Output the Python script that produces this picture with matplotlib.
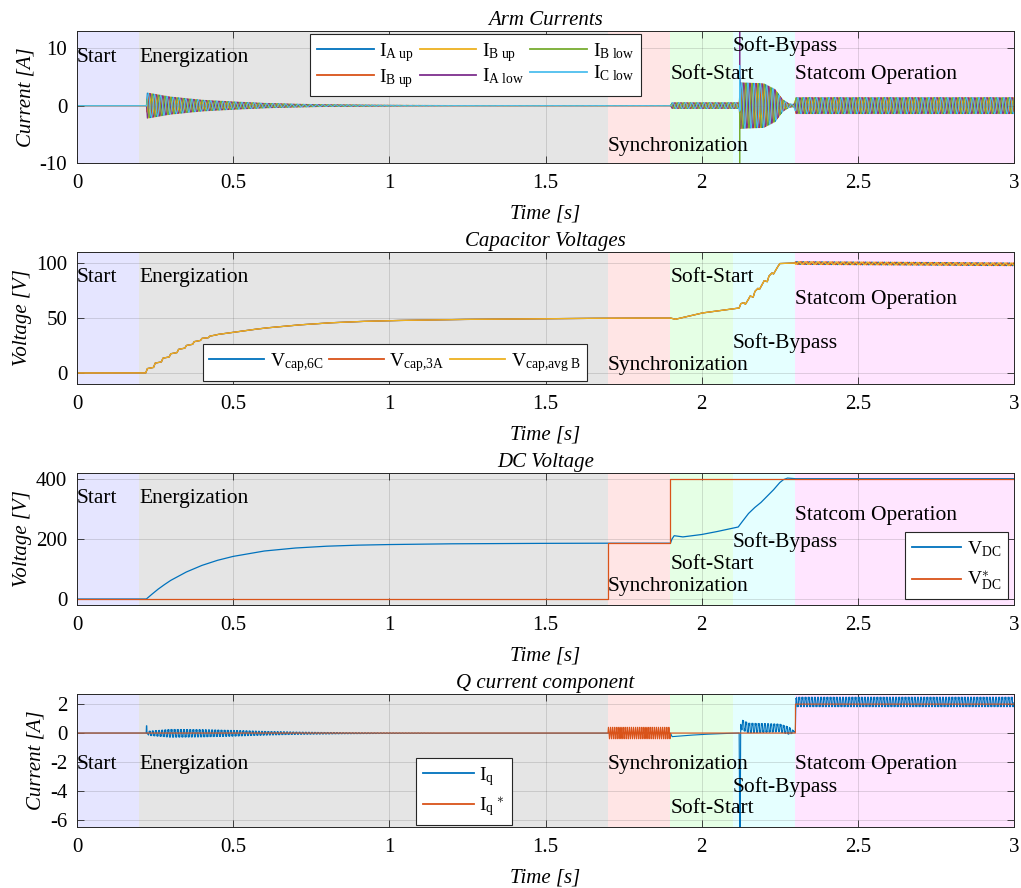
import numpy as np
import matplotlib
matplotlib.use("Agg")
import matplotlib.pyplot as plt

plt.rcParams['font.family'] = ['Liberation Serif', 'DejaVu Serif']
plt.rcParams['mathtext.fontset'] = 'custom'
plt.rcParams['mathtext.rm'] = 'Liberation Serif'
plt.rcParams['mathtext.it'] = 'Liberation Serif:italic'
plt.rcParams['axes.unicode_minus'] = False

# ---------------------------------------------------------------- phases
phase_names = ["Start", "Energization", "Synchronization", "Soft-Start",
               "Soft-Bypass", "Statcom Operation"]
phase_edges = [0.0, 0.2, 1.7, 1.9, 2.1, 2.3, 3.0]
phase_colors = ["#0000ff", "#000000", "#ff0000", "#00ff00", "#00ffff", "#ff00ff"]

# matlab default line colours
C_BLUE, C_ORANGE, C_YELLOW = "#0072BD", "#D95319", "#EDB120"
C_PURPLE, C_GREEN, C_CYAN = "#7E2F8E", "#77AC30", "#4DBEEE"

F_GRID = 50.0          # grid frequency [Hz]
t = np.arange(0.0, 3.0, 1e-4)

# ---------------------------------------------------------------- arm currents
arm_labels = [r"I$_{\rm A\ up}$", r"I$_{\rm B\ up}$", r"I$_{\rm B\ up}$",
              r"I$_{\rm A\ low}$", r"I$_{\rm B\ low}$", r"I$_{\rm C\ low}$"]
arm_colors = [C_BLUE, C_ORANGE, C_YELLOW, C_PURPLE, C_GREEN, C_CYAN]
arm_phase_deg = [0, 240, 120, 180, 60, 300]
# envelope of the arm current oscillation (time [s], amplitude [A])
arm_env_t = [0.0, 0.222, 0.225, 0.3, 0.4, 0.5, 0.6, 0.7, 0.8, 1.0, 1.2,
             1.9, 1.905, 2.12, 2.124, 2.2, 2.235, 2.26, 2.28, 2.295, 2.302, 3.0]
arm_env_a = [0.0, 0.0, 2.2, 1.5, 0.95, 0.65, 0.4, 0.25, 0.15, 0.06, 0.02,
             0.02, 0.5, 0.5, 4.0, 3.8, 2.8, 1.0, 0.3, 0.2, 1.4, 1.4]
arm_spike_t = 2.122
arm_spike_v = [5.0, -3.0, 2.5, 13.5, -11.0, 7.0]

# ---------------------------------------------------------------- capacitor voltages
cap_labels = [r"V$_{\rm cap{,}6C}$", r"V$_{\rm cap{,}3A}$", r"V$_{\rm cap{,}avg\ B}$"]
cap_colors = [C_BLUE, C_ORANGE, C_YELLOW]
cap_points = [(0.0, 0.0), (0.22, 0.0), (0.225, 4.0), (0.245, 5.0), (0.25, 9.0),
              (0.27, 10.0), (0.275, 13.5), (0.295, 14.5), (0.30, 17.5),
              (0.32, 18.5), (0.325, 21.5), (0.345, 22.5), (0.35, 25.0),
              (0.37, 26.0), (0.375, 28.5), (0.395, 29.5), (0.40, 31.5),
              (0.42, 32.0), (0.425, 33.5), (0.445, 34.5), (0.45, 35.0),
              (0.5, 37.0), (0.55, 39.0), (0.6, 40.8), (0.7, 43.5), (0.8, 45.5),
              (0.9, 46.8), (1.0, 47.6), (1.2, 48.6), (1.5, 49.4), (1.7, 49.8),
              (1.9, 50.0), (1.915, 48.8), (2.0, 54.5), (2.12, 59.0),
              (2.125, 63.0), (2.135, 64.0), (2.14, 62.5), (2.15, 67.0),
              (2.155, 70.0), (2.165, 69.0), (2.17, 74.0), (2.18, 77.0),
              (2.185, 76.0), (2.195, 81.0), (2.2, 84.0), (2.21, 83.0),
              (2.215, 88.0), (2.225, 91.0), (2.23, 90.0), (2.24, 95.0),
              (2.25, 99.5), (2.3, 100.0), (3.0, 98.8)]
cap_ripple_start = 2.3
cap_ripple_amp = 1.2
cap_ripple_phase_deg = [0, 120, 240]

# ---------------------------------------------------------------- dc voltage
dc_labels = [r"V$_{\rm DC}$", r"V$^{\ast}_{\rm DC}$"]
vdc_t = [0.0, 0.222, 0.24, 0.26, 0.28, 0.3, 0.35, 0.4, 0.45, 0.5, 0.6, 0.7,
         0.8, 0.9, 1.0, 1.2, 1.5, 1.7, 1.9, 1.905, 1.912, 1.94, 2.0, 2.05,
         2.117, 2.13, 2.15, 2.17, 2.19, 2.21, 2.23, 2.25, 2.262, 2.275, 2.3, 3.0]
vdc_v = [0.0, 0.0, 16.0, 33.0, 48.0, 62.0, 90.0, 112.0, 129.0, 142.0, 160.0,
         170.0, 176.0, 179.5, 181.5, 184.0, 185.5, 186.0, 186.0, 200.0, 211.0,
         207.0, 215.0, 225.0, 240.0, 258.0, 285.0, 305.0, 322.0, 343.0, 364.0,
         388.0, 398.0, 403.0, 401.0, 401.0]
vdc_ref_t = [0.0, 1.7, 1.7, 1.9, 1.9, 3.0]
vdc_ref_v = [0.0, 0.0, 186.0, 186.0, 400.0, 400.0]

# ---------------------------------------------------------------- q current
iq_labels = [r"I$_{\rm q}$", r"I$_{\rm q}$$^{\,\ast}$"]
iq_points = [(0.0, 0.0), (0.2215, 0.0), (0.222, 0.5), (0.2235, 0.5),
             (0.224, -0.02), (1.0, -0.01), (1.9, 0.0), (1.905, -0.25),
             (1.95, -0.17), (2.0, -0.1), (2.05, -0.05), (2.12, 0.0),
             (2.1215, -6.8), (2.1235, -6.8), (2.125, 0.6), (2.15, 0.35),
             (2.25, 0.35), (2.29, 0.1), (2.3, 0.1), (2.302, 2.15), (3.0, 2.15)]
iq_env_t = [0.0, 0.224, 0.23, 0.3, 0.4, 0.5, 0.6, 0.7, 0.85, 1.0, 1.2,
            2.125, 2.127, 2.28, 2.3, 2.302, 3.0]
iq_env_a = [0.0, 0.0, 0.15, 0.27, 0.25, 0.2, 0.13, 0.08, 0.04, 0.02, 0.0,
            0.0, 0.35, 0.25, 0.0, 0.33, 0.33]
iq_ref_t = [0.0, 2.3, 2.3, 3.0]
iq_ref_v = [0.0, 0.0, 2.0, 2.0]
iq_ref_band = (1.7, 1.9, 0.4)        # start, end, amplitude of the sync ripple

# ---------------------------------------------------------------- figure layout
fig = plt.figure(figsize=(10.21, 8.88), dpi=100)
W, H = 1021.0, 888.0
panel_px = [(31, 163), (252, 384), (473, 605), (694, 827)]   # top, bottom
axes = [fig.add_axes([77 / W, 1 - b / H, 937 / W, (b - tp) / H]) for tp, b in panel_px]

TXT = 15.0
PH_TXT = 15.5
EDGE = "#262626"


def style(ax, title, ylabel, ylim, yticks):
    ax.set_xlim(0, 3)
    ax.set_ylim(*ylim)
    ax.set_yticks(yticks)
    ax.set_xticks([0, 0.5, 1, 1.5, 2, 2.5, 3])
    ax.set_xticklabels(["0", "0.5", "1", "1.5", "2", "2.5", "3"])
    ax.set_title(title, fontsize=TXT, style="italic", pad=4)
    ax.set_xlabel("Time [s]", fontsize=TXT, style="italic", labelpad=8)
    ax.set_ylabel(ylabel, fontsize=TXT, style="italic", labelpad=3)
    ax.tick_params(direction="in", top=True, right=True, length=5,
                   width=0.6, colors=EDGE, labelsize=TXT, labelcolor="black")
    ax.tick_params(axis="x", pad=8)
    ax.tick_params(axis="y", pad=7)
    ax.grid(True, color="#262626", alpha=0.15, lw=0.7)
    ax.set_axisbelow(True)
    for s in ax.spines.values():
        s.set_color(EDGE)
        s.set_linewidth(0.7)
    for i in range(len(phase_names)):
        ax.axvspan(phase_edges[i], phase_edges[i + 1], color=phase_colors[i],
                   alpha=0.1, lw=0, zorder=0.4)


def phase_text(ax, ypos):
    for name, x0, y in zip(phase_names, phase_edges, ypos):
        ax.text(x0, y, name, fontsize=PH_TXT, ha="left", va="center", zorder=5)


def legend(ax, x0, y0, ncol, spacing=0.15, colspace=0.8, hlen=3.0):
    lg = ax.legend(loc="upper left", bbox_to_anchor=(x0, y0), ncol=ncol,
                   fontsize=14, frameon=True, fancybox=False, framealpha=1,
                   edgecolor=EDGE, borderaxespad=0, handlelength=hlen,
                   handletextpad=0.3, borderpad=0.35, labelspacing=spacing,
                   columnspacing=colspace)
    lg.get_frame().set_linewidth(0.8)
    for ln in lg.get_lines():
        ln.set_linewidth(1.3)
    return lg


# ---------------------------------------------------------------- panel 1
ax = axes[0]
style(ax, "Arm Currents", "Current [A]", (-10, 13), [-10, 0, 10])
env = np.interp(t, arm_env_t, arm_env_a)
k_spike = int(round(arm_spike_t / (t[1] - t[0])))
for lab, col, ph, sp in zip(arm_labels, arm_colors, arm_phase_deg, arm_spike_v):
    y = env * np.sin(2 * np.pi * F_GRID * t + np.deg2rad(ph))
    y[k_spike] = sp
    ax.plot(t, y, color=col, lw=0.7, label=lab, zorder=2)
legend(ax, 0.249, 0.977, 3, colspace=0.3, hlen=2.9)
phase_text(ax, [8.4, 8.4, -7.1, 5.4, 10.4, 5.4])

# ---------------------------------------------------------------- panel 2
ax = axes[1]
style(ax, "Capacitor Voltages", "Voltage [V]", (-10, 110), [0, 50, 100])
cap_t = np.array([p[0] for p in cap_points])
cap_v = np.array([p[1] for p in cap_points])
base = np.interp(t, cap_t, cap_v)
for lab, col, ph in zip(cap_labels, cap_colors, cap_ripple_phase_deg):
    rip = np.where(t >= cap_ripple_start,
                   cap_ripple_amp * np.sin(2 * np.pi * F_GRID * (t - cap_ripple_start)
                                           + np.deg2rad(ph)), 0.0)
    ax.plot(t, base + rip, color=col, lw=0.9, label=lab, zorder=2)
legend(ax, 0.134, 0.303, 3, colspace=0.3, hlen=2.8)
phase_text(ax, [87.2, 87.2, 6.6, 87.2, 26.8, 67.2])

# ---------------------------------------------------------------- panel 3
ax = axes[2]
style(ax, "DC Voltage", "Voltage [V]", (-20, 420), [0, 200, 400])
ax.plot(vdc_t, vdc_v, color=C_BLUE, lw=0.9, label=dc_labels[0], zorder=2)
ax.plot(vdc_ref_t, vdc_ref_v, color=C_ORANGE, lw=0.9, label=dc_labels[1], zorder=2)
legend(ax, 0.884, 0.553, 1, spacing=0.6, hlen=2.5)
phase_text(ax, [334, 334, 43, 115, 190, 279])

# ---------------------------------------------------------------- panel 4
ax = axes[3]
style(ax, "Q current component", "Current [A]", (-6.5, 2.7), [-6, -4, -2, 0, 2])
iq_t = np.array([p[0] for p in iq_points])
iq_v = np.array([p[1] for p in iq_points])
iq = np.interp(t, iq_t, iq_v) + np.interp(t, iq_env_t, iq_env_a) * (
    np.sin(2 * np.pi * 2 * F_GRID * t) + 0.4 * np.sin(2 * np.pi * 6 * F_GRID * t))
ax.plot(t, iq, color=C_BLUE, lw=0.8, label=iq_labels[0], zorder=2)
b0, b1, bamp = iq_ref_band
iq_ref = np.interp(t, iq_ref_t, iq_ref_v) + np.where(
    (t >= b0) & (t < b1), bamp * np.sin(2 * np.pi * 3 * F_GRID * t), 0.0)
ax.plot(t, iq_ref, color=C_ORANGE, lw=0.8, label=iq_labels[1], zorder=2)
legend(ax, 0.362, 0.519, 1, spacing=0.4, hlen=2.6)
phase_text(ax, [-2.17, -2.17, -2.17, -5.23, -3.74, -2.17])

fig.savefig("out.png", dpi=100)
